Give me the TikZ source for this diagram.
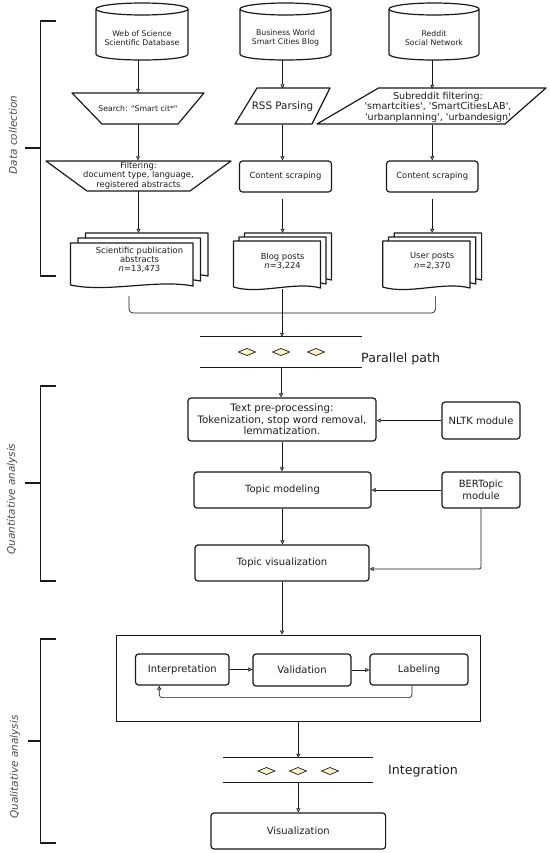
\documentclass[tikz,border=0pt]{standalone}
\usepackage{fontspec}
\setmainfont{DejaVu Sans}[Ligatures=TeXOff]
\usetikzlibrary{arrows.meta,calc}
\definecolor{txt}{HTML}{1E1E1E}
\definecolor{ln}{HTML}{1A1A1A}
\definecolor{dia}{HTML}{FFF4C4}
\newcommand\mycyl[2]{%
  \draw[shp] ({#1-#2/2},9) -- ({#1-#2/2},54) .. controls ({#1-#2/2},62) and ({#1+#2/2},62) .. ({#1+#2/2},54) -- ({#1+#2/2},9);
  \draw[shp] (#1,9) ellipse [x radius=#2/2, y radius=6];
}
\newcommand\mydocs[6]{%
  \foreach \k in {2,1,0}{%
    \draw[shp] ({#1+\k*#5},{#3+\k*#6}) -- ({#2+\k*#5},{#3+\k*#6}) -- ({#2+\k*#5},{#4+\k*#6-1})
      .. controls ({#2+\k*#5-0.3*(#2-#1)},{#4+\k*#6-8}) and ({#1+\k*#5+0.3*(#2-#1)},{#4+\k*#6+6}) .. ({#1+\k*#5},{#4+\k*#6-2}) -- cycle;
  }%
}
\newcommand\mydia[2]{%
  \draw[diam] ({#1-8.5},#2) -- (#1,{#2-3.5}) -- ({#1+8.5},#2) -- (#1,{#2+3.5}) -- cycle;
}
\begin{document}
\begin{tikzpicture}[x=1bp,y=-1bp,
  shp/.style={draw=ln, line width=1.2bp, fill=white, line join=round},
  invis/.style={inner sep=0pt, align=center, text=txt},
  box/.style={draw=ln, line width=1.2bp, fill=white, rounded corners=3bp, inner sep=0pt, align=center, text=txt},
  arr/.style={draw=ln, line width=0.7bp, -{Triangle[open, length=4bp, width=4bp]}},
  conn/.style={draw=ln, line width=0.7bp},
  brk/.style={draw=ln, line width=1.3bp},
  diam/.style={draw=ln, line width=0.7bp, fill=dia},
  hand/.style={text=txt!80, font=\fontsize{10.5}{12}\selectfont\itshape, inner sep=0pt},
  fA/.style={font=\fontsize{7.8}{9}\selectfont},
  fB/.style={font=\fontsize{8.4}{9.3}\selectfont},
  fC/.style={font=\fontsize{10}{12}\selectfont},
  fD/.style={font=\fontsize{12.7}{14}\selectfont},
]
\fill[white] (0,0) rectangle (550,853);
\useasboundingbox (0,0) rectangle (550,853);

% ---------- brackets ----------
\draw[brk] (56,21) -- (40.5,21) -- (40.5,276) -- (56,276);
\draw[brk] (25,148) -- (40.5,148);
\draw[brk] (56,386) -- (40.5,386) -- (40.5,581) -- (56,581);
\draw[brk] (25,483) -- (40.5,483);
\draw[brk] (56,639) -- (40.5,639) -- (40.5,843) -- (56,843);
\draw[brk] (28,741) -- (40.5,741);
\node[hand, rotate=90] (lbl1) at (13,135) {Data collection};
\node[hand, rotate=90] (lbl2) at (12,499) {Quantitative analysis};
\node[hand, rotate=90] (lbl3) at (15,767) {Qualitative analysis};

% ---------- sources ----------
\mycyl{142}{92}
\mycyl{285.5}{91}
\mycyl{434}{90}
\node[invis, minimum width=92bp, minimum height=57bp] (ws) at (142,31.5) {};
\node[invis, minimum width=91bp, minimum height=57bp] (bw) at (285.5,31.5) {};
\node[invis, minimum width=90bp, minimum height=57bp] (rd) at (434,31.5) {};
\node[invis, fA] (wst) at (142,38) {Web of Science\\Scientific Database};
\node[invis, fA] (bwt) at (285.5,38) {Business World\\Smart Cities Blog};
\node[invis, fA] (rdt) at (434,38) {Reddit\\Social Network};

% ---------- row 2 ----------
\draw[shp] (72,93) -- (204,93) -- (178,124) -- (102,124) -- cycle;
\node[invis, fA, minimum width=132bp, minimum height=31bp] (search) at (138,108.5) {Search: "Smart cit*"};
\draw[shp] (257,88) -- (330,88) -- (312,124) -- (235,124) -- cycle;
\node[invis, font=\fontsize{10.4}{12}\selectfont, minimum width=70bp, minimum height=36bp] (rss) at (282.5,106.5) {RSS Parsing};
\draw[shp] (378.5,88) -- (546,88) -- (505,124) -- (317,124) -- cycle;
\node[invis, font=\fontsize{9.6}{10.5}\selectfont, minimum height=36bp] (sub) at (438,107) {Subreddit filtering:\\'smartcities', 'SmartCitiesLAB',\\'urbanplanning', 'urbandesign'};

% ---------- row 3 ----------
\draw[shp] (46,161) -- (231,161) -- (190,191) -- (87,191) -- cycle;
\node[invis, fB, minimum height=30bp] (filt) at (138.5,175.5) {Filtering:\\document type, language,\\registered abstracts};
\node[box, fB, minimum width=92bp, minimum height=31bp] (c1) at (285.5,176.5) {Content scraping};
\node[box, fB, minimum width=91.5bp, minimum height=31bp] (c2) at (432.25,176.5) {Content scraping};

% ---------- documents ----------
\mydocs{70.5}{193}{243}{287}{7.5}{-5}
\mydocs{233.5}{320.5}{241}{289}{5.5}{-4}
\mydocs{382.7}{470}{241}{289}{5.8}{-4}
\node[invis, font=\fontsize{8.4}{8.8}\selectfont, minimum width=138bp, minimum height=54bp] (sci) at (139.5,260) {Scientific publication\\abstracts\\\textit{n}=13,473};
\node[invis, fB, minimum width=98bp, minimum height=56bp] (blog) at (282.6,261) {Blog posts\\\textit{n}=3,224};
\node[invis, fB, minimum width=99bp, minimum height=56bp] (user) at (432.2,261) {User posts\\\textit{n}=2,370};

% ---------- arrows top ----------
\draw[arr] (search.north |- ws.south) -- (search.north);
\draw[arr] (search.south) -- (search.south |- filt.north);
\draw[arr] (filt.south) -- (filt.south |- sci.north);
\draw[arr] (rss.north |- bw.south) -- (rss.north);
\draw[arr] (rss.south) -- (rss.south |- c1.north);
\draw[arr] ([yshift=-6bp]c1.south -| blog.north) -- (blog.north);
\draw[arr] (c2.north |- rd.south) -- (c2.north |- sub.north);
\draw[arr] (c2.north |- sub.south) -- (c2.north);
\draw[arr] ([yshift=-6bp]c2.south -| user.north) -- (user.north);

% ---------- merge ----------
\coordinate (ml) at (129,296);
\coordinate (mr) at (435.6,296);
\coordinate (mc) at (282,313);
\draw[conn, rounded corners=4bp] (ml) |- (mc) -| (mr);
\node[invis, minimum width=162bp, minimum height=30bp] (par) at (281,352) {};
\draw[conn] (blog.south -| mc) -- (mc);
\draw[arr] (mc) -- (mc |- par.north);
\draw[conn, line width=0.9bp] (par.north west) -- (par.north east);
\draw[conn, line width=0.9bp] (par.south west) -- (par.south east);
\mydia{247}{352}
\mydia{281}{352}
\mydia{316}{352}
\node[invis, fD, anchor=west] (parlbl) at (361,359) {Parallel path};

% ---------- quantitative ----------
\node[box, font=\fontsize{10.3}{11.5}\selectfont, minimum width=188bp, minimum height=43bp] (pre) at (282,419.5) {Text pre-processing:\\Tokenization, stop word removal,\\lemmatization.};
\node[box, fC, minimum width=78bp, minimum height=37bp] (nltk) at (481,420.5) {NLTK module};
\node[box, fC, minimum width=177bp, minimum height=36bp] (tm) at (282.5,490) {Topic modeling};
\node[box, fC, minimum width=78bp, minimum height=36bp] (bert) at (481,490) {BERTopic\\module};
\node[box, fC, minimum width=174bp, minimum height=36bp] (tv) at (282,563) {Topic visualization};
\draw[arr] (par.south) -- (par.south |- pre.north);
\draw[arr] (pre.south) -- (pre.south |- tm.north);
\draw[arr] (tm.south) -- (tm.south |- tv.north);
\draw[arr] (nltk.west) -- (nltk.west -| pre.east);
\draw[arr] (bert.west) -- (bert.west -| tm.east);
\draw[arr, rounded corners=2bp] (bert.south) |- ([yshift=-6bp]tv.east);

% ---------- qualitative ----------
\node[draw=ln, line width=0.7bp, inner sep=0pt, minimum width=364.6bp, minimum height=86bp] (big) at (298.3,678) {};
\node[box, fC, minimum width=93.5bp, minimum height=31bp] (interp) at (182.25,669.5) {Interpretation};
\node[box, fC, minimum width=98bp, minimum height=32bp] (valid) at (302,670) {Validation};
\node[box, fC, minimum width=98bp, minimum height=31bp] (lab) at (419,669.5) {Labeling};
\draw[arr] (tv.south) -- (tv.south |- big.north);
\draw[arr] (interp.east) -- (interp.east -| valid.west);
\draw[arr] (valid.east) -- (valid.east -| lab.west);
\draw[arr, rounded corners=3bp] ([xshift=-7bp]lab.south) -- ++(0,12) -| ([xshift=-23bp]interp.south);

\node[invis, minimum width=149.4bp, minimum height=24bp] (integ) at (298.3,770) {};
\draw[conn, line width=0.9bp] (integ.north west) -- (integ.north east);
\draw[conn, line width=0.9bp] (integ.south west) -- (integ.south east);
\mydia{266.5}{771}
\mydia{298}{771}
\mydia{330}{771}
\node[invis, fD, anchor=west] (intlbl) at (388,771) {Integration};
\node[box, fC, minimum width=174.6bp, minimum height=36bp] (vis) at (298.3,831) {Visualization};
\draw[arr] (big.south) -- (integ.north);
\draw[arr] (integ.south) -- (vis.north);
\end{tikzpicture}
\end{document}
